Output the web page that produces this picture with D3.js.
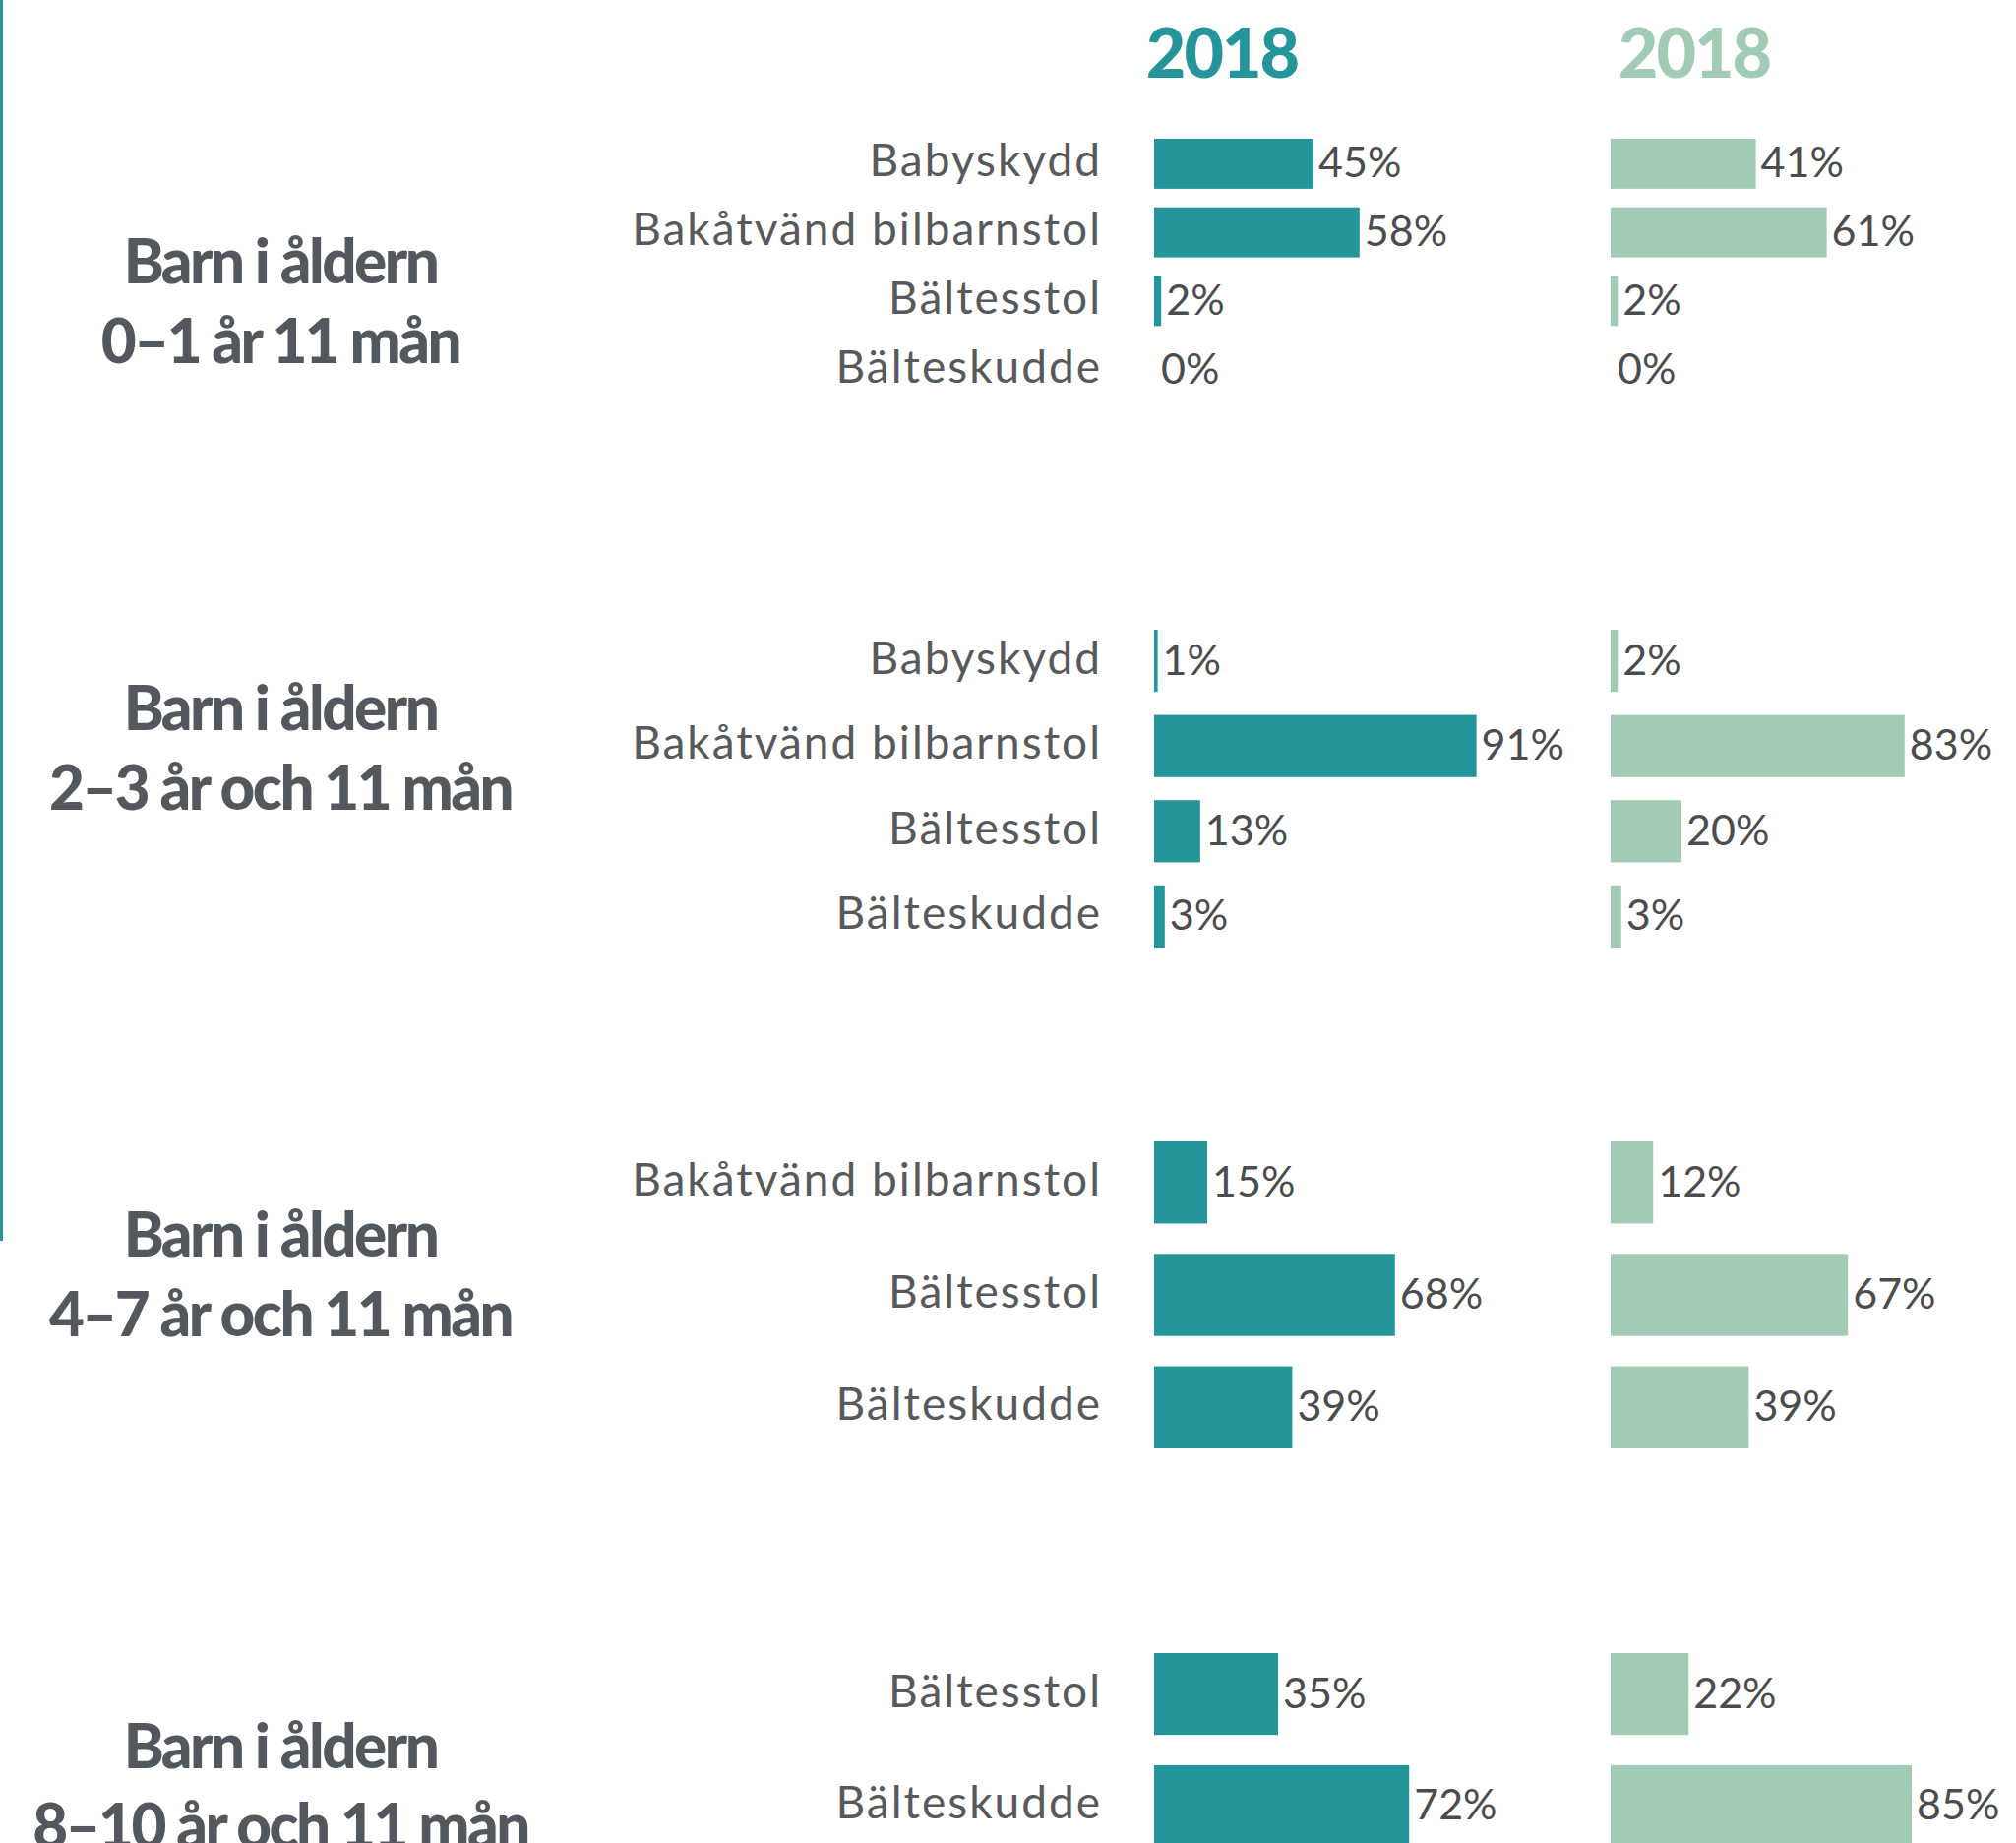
<!DOCTYPE html>
<html>
<head>
<meta charset="utf-8">
<script src="https://cdn.jsdelivr.net/npm/d3@7"></script>
<style>
html,body{margin:0;padding:0;background:#fff;}
svg{display:block;}
</style>
</head>
<body>
<script>
// ---- data ----
const seriesNames = ["2018", "2018"];
const groupTitles = [
  ["Barn i åldern", "0–1 år 11 mån"],
  ["Barn i åldern", "2–3 år och 11 mån"],
  ["Barn i åldern", "4–7 år och 11 mån"],
  ["Barn i åldern", "8–10 år och 11 mån"]
];
const categories = [
  ["Babyskydd", "Bakåtvänd bilbarnstol", "Bältesstol", "Bälteskudde"],
  ["Babyskydd", "Bakåtvänd bilbarnstol", "Bältesstol", "Bälteskudde"],
  ["Bakåtvänd bilbarnstol", "Bältesstol", "Bälteskudde"],
  ["Bältesstol", "Bälteskudde"]
];
const seriesA = [[45, 58, 2, 0], [1, 91, 13, 3], [15, 68, 39], [35, 72]];
const seriesB = [[41, 61, 2, 0], [2, 83, 20, 3], [12, 67, 39], [22, 85]];

// ---- layout ----
const W = 2049, H = 1873;
const colA = "#23959b", colB = "#a2cbb5";
const textGray = "#58595b", valGray = "#4b4c4e", titleGray = "#53585f";
const FONT = "Lato, 'Open Sans', sans-serif";
const bandRanges = [[141, 401], [640, 963], [1160, 1472], [1680, 1877]];
const titleY = [288, 742, 1277, 1797];
const titleX = 285;
const labelRight = 1120;

const svg = d3.select("body").append("svg").attr("width", W).attr("height", H);

// left accent line
svg.append("rect").attr("x", 0).attr("y", 0).attr("width", 3).attr("height", 1261).attr("fill", colA);

const xA = d3.scaleLinear().domain([0, 100]).range([1173, 1173 + 360]);
const xB = d3.scaleLinear().domain([0, 100]).range([1637, 1637 + 360]);

// headers
svg.selectAll("text.hdr").data(seriesNames).join("text")
  .attr("class", "hdr")
  .attr("x", (d, i) => i === 0 ? 1242 : 1722)
  .attr("y", 79)
  .attr("text-anchor", "middle")
  .attr("font-family", FONT).attr("font-weight", 900).attr("font-size", 70)
  .attr("letter-spacing", -2)
  .attr("fill", (d, i) => i === 0 ? colA : colB)
  .text(d => d);

categories.forEach((cats, g) => {
  const y = d3.scaleBand().domain(cats).range(bandRanges[g]).paddingInner(0.27).paddingOuter(0);
  const grp = svg.append("g");

  // title
  const t = grp.append("text")
    .attr("x", titleX).attr("y", titleY[g])
    .attr("text-anchor", "middle")
    .attr("font-family", FONT).attr("font-weight", 900).attr("font-size", 62)
    .attr("letter-spacing", -2.5)
    .attr("fill", titleGray);
  groupTitles[g].forEach((line, k) => {
    t.append("tspan").attr("x", titleX).attr("dy", k === 0 ? 0 : 81).text(line);
  });

  // category labels
  grp.selectAll("text.cat").data(cats).join("text")
    .attr("class", "cat")
    .attr("x", labelRight)
    .attr("y", d => y(d) + y.bandwidth() / 2 + 13)
    .attr("text-anchor", "end")
    .attr("font-family", FONT).attr("font-size", 46)
    .attr("letter-spacing", 2)
    .attr("fill", textGray)
    .text(d => d);

  [[seriesA[g], xA, colA], [seriesB[g], xB, colB]].forEach(([vals, x, col]) => {
    const rows = cats.map((c, i) => ({ c, v: vals[i] }));
    grp.selectAll(null).data(rows).join("rect")
      .attr("x", x(0))
      .attr("y", d => y(d.c))
      .attr("width", d => x(d.v) - x(0))
      .attr("height", y.bandwidth())
      .attr("fill", col);
    grp.selectAll(null).data(rows).join("text")
      .attr("x", d => x(d.v) + (d.v === 0 ? 7 : 5))
      .attr("y", d => y(d.c) + y.bandwidth() / 2 + 14)
      .attr("font-family", FONT).attr("font-size", 43)
      .attr("fill", valGray)
      .text(d => d.v + "%");
  });
});
</script>
</body>
</html>
